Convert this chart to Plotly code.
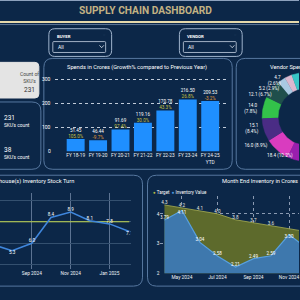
import math
import plotly.graph_objects as go

# ---------------- data ----------------
dashboard_title = "SUPPLY CHAIN DASHBOARD"
filter_labels = ["BUYER", "VENDOR"]
filter_values = ["All", "All"]

sku_card_label = "Count of<br>SKU's"
sku_total = 231
sku_counts = [231, 38]
sku_count_label = "SKU's count"

fy_labels = ["FY 18-19", "FY 19-20", "FY 20-21", "FY 21-22", "FY 22-23", "FY 23-24", "FY 24-25<br>YTD"]
spend_cr = [51.45, 46.44, 91.69, 119.16, 170.78, 216.50, 209.53]
spend_growth = [105.0, -9.7, 97.4, 30.0, 43.3, 26.8, -3.2]
spend_ticks = [0, 100, 200, 300]

vendor_values = [30.0, 24.0, 20.0, 14.5, 18.4, 16.0, 15.1, 14.0, 12.1, 5.2, 4.7, 6.0]
vendor_colors = ["#2a6fd6", "#f2c12e", "#e0524f", "#7fa7d8", "#9a1fae", "#d93cbf", "#4a2c85",
                 "#33c24a", "#1f4f4c", "#a9c9e2", "#dcb8cf", "#39c7c7"]
vendor_show_label = [False, False, False, False, True, True, True, True, True, True, True, False]
vendor_label_wrap = [False, False, False, False, False, False, True, True, False, False, True, False]
vendor_label_dx = [0, 0, 0, 0, -8, -7, -2, -2, 3, 0, -6, 0]

turn_months = ["2024-07-01", "2024-08-01", "2024-09-01", "2024-10-01",
               "2024-11-01", "2024-12-01", "2025-01-01", "2025-02-01"]
turn_values = [5.9, 5.3, 6.0, 8.4, 8.9, 8.1, 7.8, 7.1]
turn_target = [8.0, 8.0, 8.0, 8.0, 8.0, 8.0, 8.0, 8.0]

inv_months = ["2024-04-01", "2024-05-01", "2024-06-01", "2024-07-01", "2024-08-01",
              "2024-09-01", "2024-10-01", "2024-11-01", "2024-12-01"]
inv_target = [4.3, 4.2, 4.1, 4.0, 3.8, 3.7, 3.6, 3.5, 3.4]
inv_value = [3.79, 4.11, 3.04, 2.58, 2.21, 2.49, 2.59, 3.30, 2.85]
inv_target_show = [True, True, True, True, True, True, True, False, False]

# ---------------- style ----------------
W = H = 300
BG = "#0c2748"
BORDER = "#56779f"
FONT = "Roboto"
WHITE = "#ffffff"
TURN_RANGE = ["2024-07-13", "2025-02-03"]
INV_RANGE = ["2024-03-25 04:00", "2024-11-18 03:00"]
BAR_X_PX = (55, 228)
BAR_Y_PX = (153, 75)
BAR_RANGE = (0, 321)


def px(x):
    return x / W


def py(y):
    return 1 - y / H


def rrect(x0, y0, x1, y1, r):
    X0, X1 = px(x0), px(x1)
    Y0, Y1 = py(y0), py(y1)
    rx, ry = r / W, r / H
    return (f"M {X0+rx},{Y0} H {X1-rx} Q {X1},{Y0} {X1},{Y0-ry} V {Y1+ry} "
            f"Q {X1},{Y1} {X1-rx},{Y1} H {X0+rx} Q {X0},{Y1} {X0},{Y1+ry} "
            f"V {Y0-ry} Q {X0},{Y0} {X0+rx},{Y0} Z")


shapes = []
annotations = []


def panel(x0, y0, x1, y1, r=8, fill=None, color=BORDER, width=1):
    shapes.append(dict(type="path", path=rrect(x0, y0, x1, y1, r), xref="paper", yref="paper",
                       line=dict(color=color, width=width),
                       fillcolor=fill if fill else "rgba(0,0,0,0)", layer="below"))


def hline(y, x0, x1, color, width):
    shapes.append(dict(type="line", x0=px(x0), x1=px(x1), y0=py(y), y1=py(y), xref="paper",
                       yref="paper", line=dict(color=color, width=width), layer="below"))


def text(x, y, s, size=5, color=WHITE, xanchor="left", bold=False, align="left"):
    annotations.append(dict(x=px(x), y=py(y), xref="paper", yref="paper", text=s,
                            showarrow=False, xanchor=xanchor, yanchor="middle", align=align,
                            font=dict(family=FONT, size=size, color=color,
                                      weight="bold" if bold else "normal")))


def in_range(d, rng):
    return rng[0][:10] <= d <= rng[1][:10]


fig = go.Figure()

# ---------- header ----------
hline(0.5, 0, 300, "#8fa3bf", 1)
hline(22.3, 0, 300, "#e6d9ab", 2)
hline(24.8, 0, 300, "#5d7697", 1)
text(146, 11, dashboard_title, size=10.2, color="#c2b283", xanchor="center", bold=True)

for (bx0, bx1), lab, val in zip([(49, 112), (180, 243)], filter_labels, filter_values):
    panel(bx0, 29, bx1, 57, r=6, color="#9fb3cc", width=1)
    text(bx0 + 6, 36.5, lab, size=4.3, bold=True)
    panel(bx0 + 4, 42, bx1 - 6, 53, r=1, color="#c8d4e4", width=0.8)
    text(bx0 + 7, 47.5, val, size=5)
    cx = bx1 - 10
    shapes.append(dict(type="path", xref="paper", yref="paper",
                       path=f"M {px(cx-2.2)},{py(45.8)} L {px(cx)},{py(48.2)} L {px(cx+2.2)},{py(45.8)}",
                       line=dict(color="#dfe6ef", width=0.8)))
    text(bx1 - 7, 35, "◌", size=4, color="#50698a", xanchor="center")

# ---------- left cards ----------
panel(-6, 63, 39, 99, r=4, fill="#e4e4e4", color="#e4e4e4")
text(30, 78.5, sku_card_label, size=5, color="#444444", xanchor="center", align="center")
text(30, 91, str(sku_total), size=6.5, color="#333333", xanchor="center")
panel(-12, 103, 41, 171, r=9)
for yy, c in zip([119.5, 152], sku_counts):
    text(2, yy, str(c), size=6.5)
    text(2, yy + 7.5, sku_count_label, size=4.8)

# ---------- panels ----------
panel(44, 59, 233, 171, r=9)
panel(237, 59, 330, 171, r=9)
panel(-12, 177, 143, 289, r=9)
panel(148, 177, 330, 289, r=9)

text(65, 68, "Spends in Crores (Growth% compared to Previous Year)", size=5.7)
text(269, 68, "Vendor Spends", size=5.7)
text(76, 183, "Warehouse(s) Inventory Stock Turn", size=5.7, xanchor="right")
text(221, 183, "Month End Inventory in Crores", size=5.7)
text(152, 194, "<span style='color:#b3b845'>●</span> Target  "
               "<span style='color:#4f9ee2'>●</span> Inventory Value", size=4.5)

# value-axis labels of the bar chart, placed with the same linear scale as the bar y axis
for t in spend_ticks:
    ypx = BAR_Y_PX[0] + (BAR_Y_PX[1] - BAR_Y_PX[0]) * (t - BAR_RANGE[0]) / (BAR_RANGE[1] - BAR_RANGE[0])
    text(BAR_X_PX[0] - 2, ypx, str(t), size=5, xanchor="right")

# ---------- bar chart ----------
fig.add_trace(go.Bar(x=fy_labels, y=spend_cr, width=0.8, marker=dict(color="#1f8fff", line=dict(width=0)),
                     xaxis="x", yaxis="y", hoverinfo="skip"))
bar_text = []
for v, g in zip(spend_cr, spend_growth):
    col = "#c4c043" if g >= 0 else "#e39a35"
    bar_text.append(f"{v:.2f}<br><span style='color:{col}'>{g:.1f}%</span>")
fig.add_trace(go.Scatter(x=fy_labels, y=spend_cr, mode="text", text=bar_text, textposition="top center",
                         textfont=dict(family=FONT, size=4.6, color=WHITE), xaxis="x", yaxis="y",
                         hoverinfo="skip", cliponaxis=False))

# ---------- donut ----------
total = sum(vendor_values)
R_OUT, R_IN = 45, 29
ROT = -8.0
cum = 0.0
labels = []
for v, col, show, wrap, dx in zip(vendor_values, vendor_colors, vendor_show_label, vendor_label_wrap,
                                  vendor_label_dx):
    a0 = cum / total * 360 + ROT
    a1 = (cum + v) / total * 360 + ROT
    cum += v
    n = 24
    angs = [a0 + (a1 - a0) * i / n for i in range(n + 1)]
    xs = [R_OUT * math.sin(math.radians(a)) for a in angs] + \
         [R_IN * math.sin(math.radians(a)) for a in reversed(angs)]
    ys = [R_OUT * math.cos(math.radians(a)) for a in angs] + \
         [R_IN * math.cos(math.radians(a)) for a in reversed(angs)]
    fig.add_trace(go.Scatter(x=xs, y=ys, fill="toself", fillcolor=col, mode="lines",
                             line=dict(color=col, width=0.5), xaxis="x4", yaxis="y4",
                             hoverinfo="skip"))
    if show:
        am = math.radians((a0 + a1) / 2)
        sep = "<br>" if wrap else " "
        labels.append(dict(x=(R_OUT + 4) * math.sin(am) + dx, y=40 * math.cos(am),
                           t=f"{v:.1f}{sep}({v / total * 100:.1f}%)", h=10.5 if wrap else 5.5))
labels.sort(key=lambda d: -d["y"])
for i in range(1, len(labels)):
    lim = labels[i - 1]["y"] - (labels[i - 1]["h"] + labels[i]["h"]) / 2 - 0.5
    if labels[i]["y"] > lim:
        labels[i]["y"] = lim
fig.add_trace(go.Scatter(x=[d["x"] for d in labels], y=[d["y"] for d in labels], mode="text",
                         text=[d["t"] for d in labels], textposition="middle left",
                         textfont=dict(family=FONT, size=4.6, color=WHITE), xaxis="x4", yaxis="y4",
                         hoverinfo="skip", cliponaxis=False))

# ---------- stock turn line ----------
fig.add_trace(go.Scatter(x=turn_months, y=turn_target, mode="lines", line=dict(color="#c3d94e", width=1.2),
                         xaxis="x2", yaxis="y2", hoverinfo="skip"))
turn_pos = []
for i, v in enumerate(turn_values):
    prev_v = turn_values[i - 1] if i > 0 else v
    nxt = turn_values[i + 1] if i + 1 < len(turn_values) else v
    turn_pos.append("bottom center" if (v <= prev_v and v <= nxt) or i == len(turn_values) - 1 else "top center")
turn_text = [f"{v:.1f}" if in_range(m, TURN_RANGE) else "" for m, v in zip(turn_months, turn_values)]
fig.add_trace(go.Scatter(x=turn_months, y=turn_values, mode="lines+text", text=turn_text,
                         textposition=turn_pos, textfont=dict(family=FONT, size=4.6, color=WHITE),
                         line=dict(color="#3f86dc", width=1.5), xaxis="x2", yaxis="y2", hoverinfo="skip"))

# ---------- month end inventory ----------
fig.add_trace(go.Scatter(x=inv_months, y=inv_target, mode="lines+text", fill="tozeroy", fillcolor="#5d6a2c",
                         line=dict(color="#a9ae52", width=0.8),
                         text=[f"{v:.1f}" if s else "" for v, s in zip(inv_target, inv_target_show)],
                         textposition="top center", textfont=dict(family=FONT, size=4.6, color="#e8e8e0"),
                         xaxis="x3", yaxis="y3", hoverinfo="skip"))
inv_pos = ["bottom center" if t - v < 0.4 else "top center" for v, t in zip(inv_value, inv_target)]
inv_text = [f"{v:.2f}" if in_range(m, INV_RANGE) else "" for m, v in zip(inv_months, inv_value)]
fig.add_trace(go.Scatter(x=inv_months, y=inv_value, mode="lines+text", fill="tozeroy", fillcolor="#3e78ad",
                         line=dict(color="#57a0e0", width=1.2),
                         text=inv_text, textposition=inv_pos,
                         textfont=dict(family=FONT, size=4.6, color=WHITE),
                         xaxis="x3", yaxis="y3", hoverinfo="skip"))

tickf = dict(family=FONT, size=4.8, color="#eef2f7")
fig.update_layout(
    width=W, height=H, margin=dict(l=0, r=0, t=0, b=0), paper_bgcolor=BG, plot_bgcolor="rgba(0,0,0,0)",
    showlegend=False, font=dict(family=FONT, color=WHITE), shapes=shapes, annotations=annotations,
    xaxis=dict(domain=[px(BAR_X_PX[0]), px(BAR_X_PX[1])], type="category", range=[-0.93, 6.76],
               showgrid=False, zeroline=False, showline=False, ticks="", tickfont=tickf, fixedrange=True,
               anchor="y", ticklabeloverflow="allow"),
    yaxis=dict(domain=[py(BAR_Y_PX[0]), py(BAR_Y_PX[1])], range=list(BAR_RANGE), tickvals=spend_ticks,
               showgrid=True, gridcolor="#c0cad8", griddash="dot", gridwidth=1, zeroline=False,
               showticklabels=False, ticks="", fixedrange=True, anchor="x"),
    xaxis2=dict(domain=[0, px(131)], type="date", range=TURN_RANGE, tick0="2024-01-01",
                dtick="M2", tickformat="%b %Y", showgrid=True, gridcolor="#5c7392", gridwidth=0.6,
                zeroline=False, ticks="", tickfont=tickf, anchor="y2", ticklabeloverflow="allow"),
    yaxis2=dict(domain=[py(272), py(195)], range=[3.58, 10.67], tickvals=[4, 6, 8, 10], showticklabels=False,
                showgrid=True, gridcolor="#34506f", gridwidth=0.7, zeroline=False, anchor="x2"),
    xaxis3=dict(domain=[px(161), 1], type="date", range=INV_RANGE,
                tick0="2024-01-01", dtick="M2", tickformat="%b %Y", showgrid=True, gridcolor="#8a9ab2",
                griddash="dot", gridwidth=0.7, zeroline=False, ticks="", tickfont=tickf, anchor="y3",
                ticklabeloverflow="allow"),
    yaxis3=dict(domain=[py(276), py(198)], range=[2, 4.6], tickvals=[2, 3, 4], showgrid=True,
                gridcolor="#8a9ab2", griddash="dot", gridwidth=0.7, zeroline=False, ticks="",
                tickfont=tickf, anchor="x3", ticklabeloverflow="allow"),
    xaxis4=dict(domain=[px(236), 1], range=[236 - 308, 300 - 308], visible=False, anchor="y4"),
    yaxis4=dict(domain=[py(172), py(60)], range=[118 - 172, 118 - 60], visible=False, anchor="x4"),
)

fig.write_html("out.html")
